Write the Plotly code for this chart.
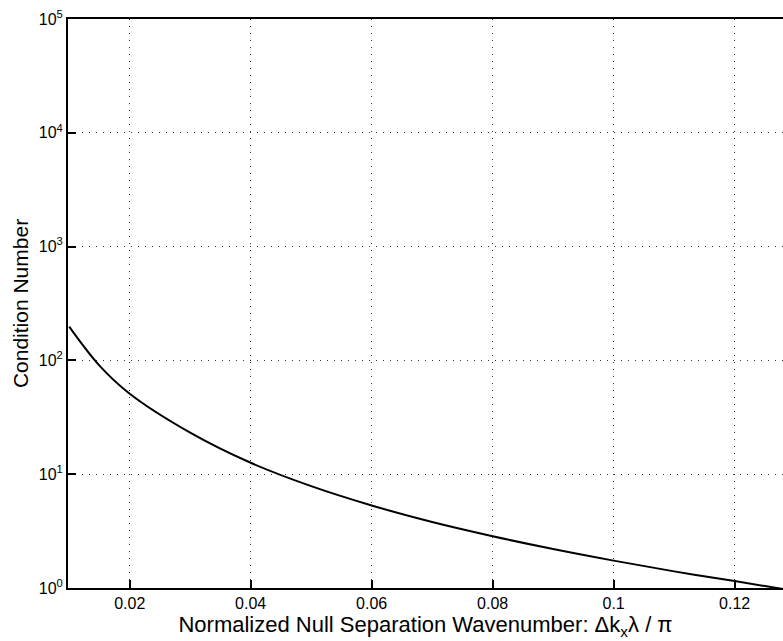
import plotly.graph_objects as go

# Data
separation = [0.010, 0.015, 0.020, 0.030, 0.040, 0.050, 0.060, 0.070,
              0.080, 0.090, 0.100, 0.110, 0.120, 0.128]
condition_number = [198, 90, 51, 23.2, 12.6, 7.85, 5.31, 3.80,
                    2.85, 2.20, 1.74, 1.40, 1.15, 0.98]

x_ticks = [0.02, 0.04, 0.06, 0.08, 0.1, 0.12]
x_ticktext = ["0.02", "0.04", "0.06", "0.08", "0.1", "0.12"]
y_ticks = [1, 10, 100, 1000, 10000, 100000]
y_ticktext = ["10<sup>0</sup>", "10<sup>1</sup>", "10<sup>2</sup>",
              "10<sup>3</sup>", "10<sup>4</sup>", "10<sup>5</sup>"]

fig = go.Figure()
fig.add_trace(go.Scatter(
    x=separation, y=condition_number, mode="lines",
    line=dict(color="black", width=2, shape="spline", smoothing=1.0),
    showlegend=False, hoverinfo="x+y"))

font = "Liberation Sans, Arial, Helvetica, sans-serif"
fig.update_layout(
    width=783, height=641,
    margin=dict(l=68, r=0, t=19, b=53),
    paper_bgcolor="white", plot_bgcolor="white",
    font=dict(family=font, color="black", size=16),
    xaxis=dict(
        range=[0.0098, 0.128],
        tickvals=x_ticks, ticktext=x_ticktext,
        ticks="inside", ticklen=8, tickwidth=1.5, tickcolor="black",
        showline=True, linecolor="black", linewidth=2, mirror=True,
        showgrid=True, gridcolor="#333333", gridwidth=1, griddash="1px,6px",
        zeroline=False,
        tickfont=dict(size=16),
        title=dict(text="Normalized Null Separation Wavenumber: \u0394k<sub>x</sub>\u03bb / \u03c0",
                   font=dict(size=22), standoff=0),
    ),
    yaxis=dict(
        type="log", range=[0, 5],
        tickvals=y_ticks, ticktext=y_ticktext,
        ticks="inside", ticklen=8, tickwidth=1.5, tickcolor="black",
        showline=True, linecolor="black", linewidth=2, mirror=False,
        showgrid=True, gridcolor="#333333", gridwidth=1, griddash="1px,6px",
        zeroline=False,
        tickfont=dict(size=16),
        title=dict(text="Condition Number", font=dict(size=21), standoff=4),
    ),
)

fig.write_html("out.html")
